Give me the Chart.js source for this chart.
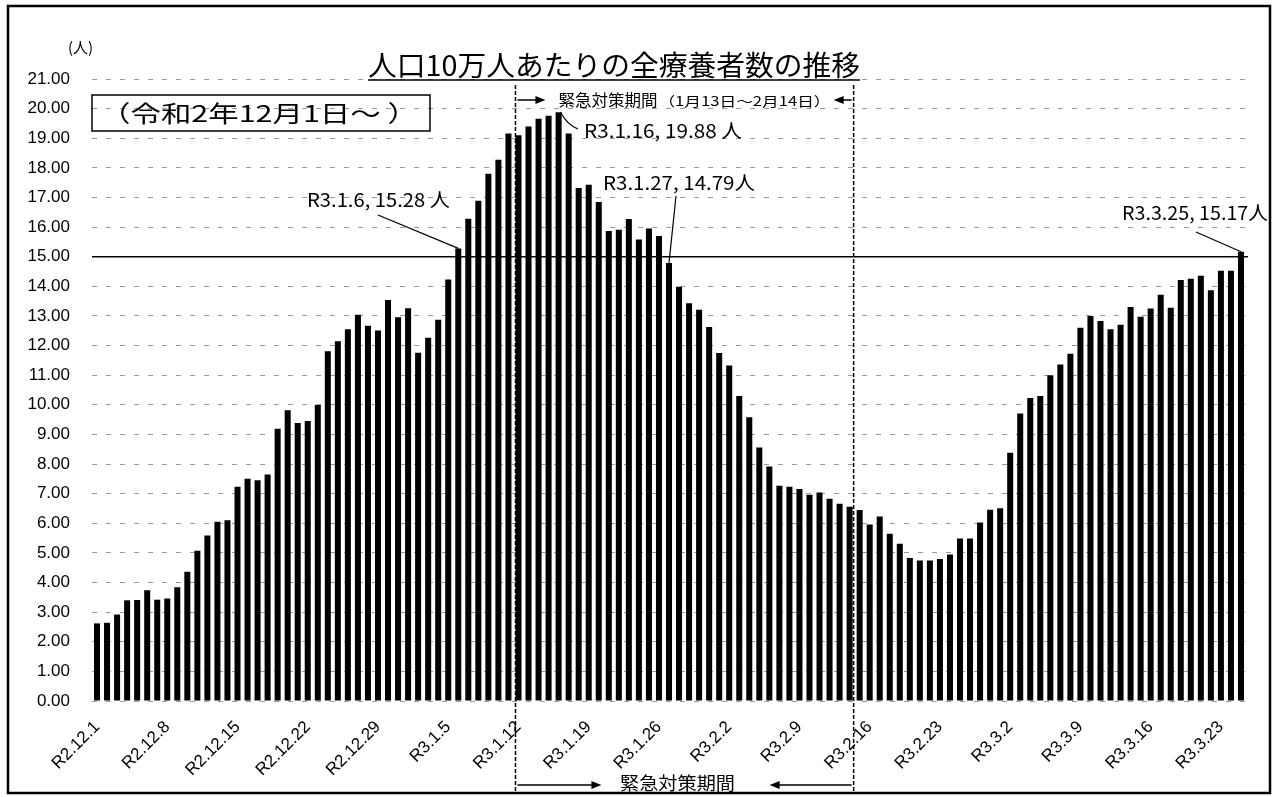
<!DOCTYPE html>
<html lang="ja">
<head>
<meta charset="utf-8">
<title>人口10万人あたりの全療養者数の推移</title>
<script src="https://cdn.jsdelivr.net/npm/chart.js@4.4.1/dist/chart.umd.min.js"></script>
<style>
  html, body { margin: 0; padding: 0; background: #fff; }
  #wrap { width: 1278px; height: 797px; position: relative; }
</style>
</head>
<body>
<div id="wrap"><canvas id="chart" width="1278" height="797"></canvas></div>
<script>
// 月ごとの日数（R2.12 〜 R3.3.25）
const months = [
    { prefix: 'R2.12.', days: 31 },
    { prefix: 'R3.1.', days: 31 },
    { prefix: 'R3.2.', days: 28 },
    { prefix: 'R3.3.', days: 25 }
];

const dates = [];
months.forEach(m => {
    for (let d = 1; d <= m.days; d++) dates.push(m.prefix + d);
});

// 人口10万人あたりの全療養者数（人）
const patients = [
    2.62, 2.64, 2.92, 3.40, 3.41, 3.74, 3.42, 3.46, 3.84, 4.36,
    5.07, 5.59, 6.05, 6.10, 7.23, 7.50, 7.45, 7.65, 9.19, 9.82,
    9.39, 9.45, 9.99, 11.81, 12.15, 12.55, 13.04, 12.67, 12.51, 13.54,
    12.96, 13.26, 11.76, 12.26, 12.87, 14.23, 15.28, 16.28, 16.89, 17.80,
    18.27, 19.16, 19.10, 19.40, 19.66, 19.76, 19.88, 19.16, 17.32, 17.43,
    16.85, 15.87, 15.91, 16.27, 15.58, 15.95, 15.70, 14.79, 13.99, 13.43,
    13.21, 12.63, 11.75, 11.33, 10.30, 9.58, 8.56, 7.92, 7.27, 7.23,
    7.16, 6.96, 7.04, 6.83, 6.66, 6.56, 6.45, 5.96, 6.23, 5.65,
    5.31, 4.83, 4.74, 4.74, 4.79, 4.95, 5.49, 5.49, 6.03, 6.46,
    6.51, 8.38, 9.71, 10.23, 10.30, 11.00, 11.36, 11.72, 12.60, 13.00,
    12.83, 12.55, 12.70, 13.30, 12.97, 13.25, 13.72, 13.28, 14.21, 14.26,
    14.36, 13.87, 14.53, 14.53, 15.17
];

const yTicks = [0, 1, 2, 3, 4, 5, 6, 7, 8, 9, 10, 11, 12, 13, 14, 15, 16, 17, 18, 19, 20, 21];
const tickEvery = 7;
const refLine = 15;

// 緊急対策期間（破線の位置、カテゴリ番号）
const emergencyStart = 41.7;
const emergencyEnd = 75.4;

// 注記: 対象の日付と文字位置
const notes = [
    { date: 'R3.1.6', text: 'R3.1.6, 15.28 人', tx: 307, ty: 200, w: 143, lx: 378, ly: 215 },
    { date: 'R3.1.16', text: 'R3.1.16, 19.88 人', tx: 584, ty: 131, w: 158, lx: 578, ly: 129, curve: true },
    { date: 'R3.1.27', text: 'R3.1.27, 14.79人', tx: 603, ty: 183, w: 152, lx: 676, ly: 196 },
    { date: 'R3.3.25', text: 'R3.3.25, 15.17人', tx: 1122, ty: 213, w: 146, lx: 1196, ly: 232 }
];

const JP = '"Noto Sans CJK JP", "Liberation Sans", sans-serif';
const LAT = '"Liberation Sans", Arial, sans-serif';

function arrow(ctx, x1, y, x2) {
    const dir = x2 > x1 ? 1 : -1;
    ctx.beginPath();
    ctx.moveTo(x1, y);
    ctx.lineTo(x2 - dir * 8, y);
    ctx.stroke();
    ctx.beginPath();
    ctx.moveTo(x2, y);
    ctx.lineTo(x2 - dir * 10, y - 4);
    ctx.lineTo(x2 - dir * 10, y + 4);
    ctx.closePath();
    ctx.fill();
}

// 文字を指定の幅に合わせて横方向に伸縮して描く
function fitText(ctx, text, x, y, width) {
    const w = ctx.measureText(text).width;
    ctx.save();
    ctx.translate(x, y);
    ctx.scale(width / w, 1);
    ctx.textAlign = 'left';
    ctx.fillText(text, 0, 0);
    ctx.restore();
}

const overlay = {
    id: 'overlay',
    afterDatasetsDraw(chart) {
        const { ctx, chartArea, scales } = chart;
        const x = scales.x, y = scales.y;
        ctx.save();
        ctx.fillStyle = '#000';
        ctx.strokeStyle = '#000';

        // 基準線 15人
        const yRef = y.getPixelForValue(refLine);
        ctx.lineWidth = 1.5;
        ctx.beginPath();
        ctx.moveTo(chartArea.left, yRef);
        ctx.lineTo(chartArea.right + 2, yRef);
        ctx.stroke();

        // 緊急対策期間の破線
        const xs = x.getPixelForValue(emergencyStart);
        const xe = x.getPixelForValue(emergencyEnd);
        ctx.lineWidth = 1.5;
        ctx.setLineDash([4, 2]);
        [xs, xe].forEach(px => {
            ctx.beginPath();
            ctx.moveTo(px, 85);
            ctx.lineTo(px, 792);
            ctx.stroke();
        });
        ctx.setLineDash([]);

        // 上の矢印と文字
        ctx.lineWidth = 1.5;
        arrow(ctx, xs + 2, 100, xs + 30);
        arrow(ctx, xe - 2, 100, xe - 20);
        ctx.textBaseline = 'middle';
        ctx.font = '16px ' + JP;
        fitText(ctx, '緊急対策期間', xs + 43, 100, 99);
        ctx.font = '13px ' + JP;
        fitText(ctx, '（1月13日～2月14日）', xs + 143, 101, 172);

        // 下の矢印と文字
        arrow(ctx, xs + 2, 785, xs + 86);
        arrow(ctx, xe - 2, 785, xe - 84);
        ctx.font = '18px ' + JP;
        fitText(ctx, '緊急対策期間', 620, 783, 115);

        // 注記
        ctx.lineWidth = 1.2;
        notes.forEach(n => {
            const i = dates.indexOf(n.date);
            const px = x.getPixelForValue(i);
            const py = y.getPixelForValue(patients[i]);
            ctx.beginPath();
            if (n.curve) {
                ctx.moveTo(px + 2, py);
                ctx.quadraticCurveTo(px + 8, py + 12, n.lx, n.ly);
            } else {
                ctx.moveTo(n.lx, n.ly);
                ctx.lineTo(px, py);
            }
            ctx.stroke();
            ctx.font = '19px ' + JP;
            fitText(ctx, n.text, n.tx, n.ty, n.w);
        });

        // タイトル（下線付き）
        ctx.font = '28px ' + JP;
        fitText(ctx, '人口10万人あたりの全療養者数の推移', 368, 65, 492);
        ctx.lineWidth = 1.5;
        ctx.beginPath();
        ctx.moveTo(368, 80);
        ctx.lineTo(860, 80);
        ctx.stroke();

        // 期間の枠
        ctx.lineWidth = 1.5;
        ctx.strokeRect(92, 95, 338, 36);
        ctx.font = '23px ' + JP;
        fitText(ctx, '（令和2年12月1日～ ）', 100, 113, 318);

        // 単位
        ctx.font = '15px ' + JP;
        ctx.textAlign = 'left';
        ctx.fillText('(人)', 68, 47);

        // 外枠
        ctx.lineWidth = 2.5;
        ctx.strokeRect(8, 6, 1262, 787);
        ctx.restore();
    }
};

new Chart(document.getElementById('chart'), {
    type: 'bar',
    data: {
        labels: dates,
        datasets: [{
            data: patients,
            backgroundColor: '#000',
            borderWidth: 0,
            categoryPercentage: 1,
            barPercentage: 0.6
        }]
    },
    options: {
        responsive: false,
        animation: false,
        events: [],
        layout: { padding: { left: 12, right: 32, top: 79, bottom: 0 } },
        plugins: {
            legend: { display: false },
            tooltip: { enabled: false }
        },
        scales: {
            x: {
                afterFit: s => { s.height = 96; },
                grid: { display: false, drawTicks: false },
                border: { display: false },
                ticks: {
                    autoSkip: false,
                    maxRotation: 45,
                    minRotation: 45,
                    padding: 16,
                    color: '#000',
                    font: { family: LAT, size: 17 },
                    callback: (v, i) => (i % tickEvery === 0 ? dates[i] : '')
                }
            },
            y: {
                min: 0,
                max: 21,
                afterFit: s => { s.width = 80; },
                afterBuildTicks: s => { s.ticks = yTicks.map(v => ({ value: v })); },
                grid: {
                    color: '#9a9a9a',
                    lineWidth: 1,
                    drawTicks: false
                },
                border: { display: false, dash: [5, 9] },
                ticks: {
                    padding: 22,
                    color: '#000',
                    font: { family: LAT, size: 17 },
                    callback: v => Number(v).toFixed(2)
                }
            }
        }
    },
    plugins: [overlay]
});
</script>
</body>
</html>
